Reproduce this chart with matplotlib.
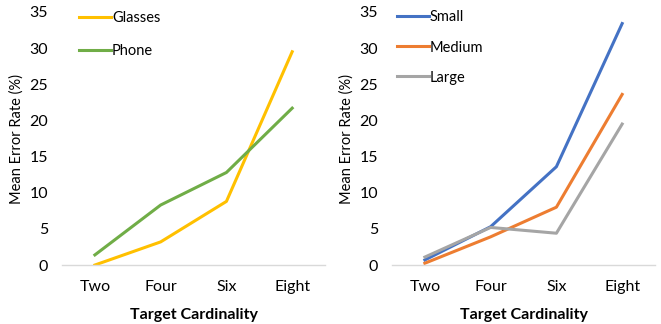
import matplotlib
matplotlib.use("Agg")
from matplotlib import pyplot as plt

plt.rcParams['font.family'] = ['Lato', 'DejaVu Sans']

# 数据
categories = ['Two', 'Four', 'Six', 'Eight']
glasses = [0.0, 3.2, 8.8, 29.5]
phone = [1.4, 8.3, 12.8, 21.7]
small = [0.7, 5.3, 13.6, 33.4]
medium = [0.25, 3.9, 8.0, 23.6]
large = [1.1, 5.2, 4.4, 19.5]
y_ticks = [0, 5, 10, 15, 20, 25, 30, 35]


def style_axes(ax):
    ax.set_xlim(-0.5, 3.5)
    ax.set_ylim(0, 35)
    ax.set_xticks(range(len(categories)))
    ax.set_xticklabels(categories)
    ax.set_yticks(y_ticks)
    for side in ['top', 'right', 'left']:
        ax.spines[side].set_visible(False)
    ax.spines['bottom'].set_color('#D9D9D9')
    ax.spines['bottom'].set_linewidth(1.0)
    ax.tick_params(axis='both', length=0, labelsize=11.5, colors='#000000')
    ax.tick_params(axis='x', pad=11)
    ax.tick_params(axis='y', pad=10)
    ax.set_ylabel('Mean Error Rate (%)', fontsize=10.5, labelpad=4)
    ax.set_xlabel('Target Cardinality', fontsize=11.5, fontweight='bold', labelpad=10)


fig = plt.figure(figsize=(6.61, 3.24), dpi=100)
ax1 = fig.add_axes([0.0938, 0.182, 0.398, 0.781])
ax2 = fig.add_axes([0.593, 0.182, 0.398, 0.781])

x = range(len(categories))
ax1.plot(x, glasses, color='#FFC000', lw=2.2, label='Glasses')
ax1.plot(x, phone, color='#70AD47', lw=2.2, label='Phone')
style_axes(ax1)
ax1.legend(loc='upper left', bbox_to_anchor=(0.065, 1.002), frameon=False, fontsize=10.5,
           handlelength=2.2, handletextpad=0.05, labelspacing=1.25, borderpad=0, borderaxespad=0)

ax2.plot(x, small, color='#4472C4', lw=2.2, label='Small')
ax2.plot(x, medium, color='#ED7D31', lw=2.2, label='Medium')
ax2.plot(x, large, color='#A5A5A5', lw=2.2, label='Large')
style_axes(ax2)
ax2.legend(loc='upper left', bbox_to_anchor=(0.02, 1.006), frameon=False, fontsize=10.5,
           handlelength=2.2, handletextpad=0.05, labelspacing=1.1, borderpad=0, borderaxespad=0)

fig.savefig('out.png', dpi=100)
